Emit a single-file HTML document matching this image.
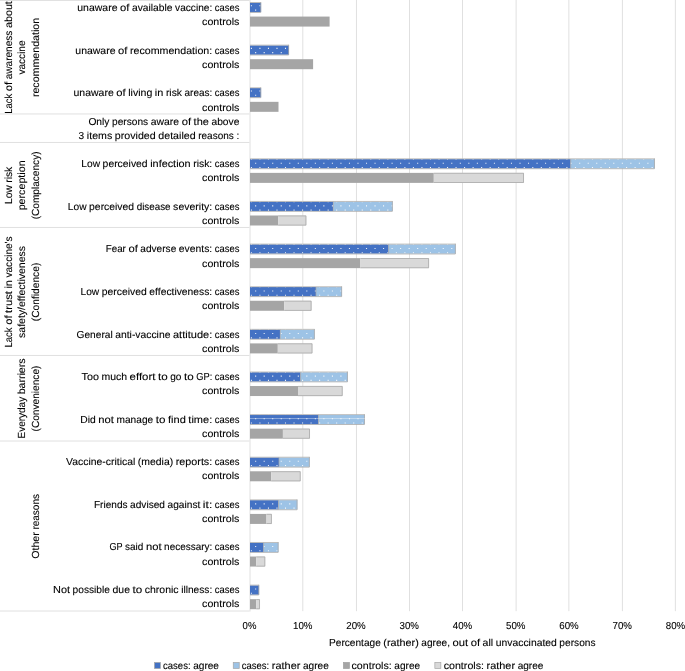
<!DOCTYPE html>
<html lang="en"><head><meta charset="utf-8"><title>Reasons for non-vaccination</title>
<style>html,body{margin:0;padding:0;background:#fff}body{width:685px;height:671px;overflow:hidden}svg{display:block}text{font-family:"Liberation Sans",sans-serif;font-size:10.1px;fill:#000;stroke:#000;stroke-width:0.1px;text-rendering:geometricPrecision}text.v{font-size:10.3px}</style></head><body>
<svg width="685" height="671" viewBox="0 0 685 671">
<rect width="685" height="671" fill="#fff"/>
<line x1="302.80" y1="0" x2="302.80" y2="611.18" stroke="#e0e0e0" stroke-width="1"/>
<line x1="356.45" y1="0" x2="356.45" y2="611.18" stroke="#e0e0e0" stroke-width="1"/>
<line x1="409.50" y1="0" x2="409.50" y2="611.18" stroke="#e0e0e0" stroke-width="1"/>
<line x1="462.50" y1="0" x2="462.50" y2="611.18" stroke="#e0e0e0" stroke-width="1"/>
<line x1="516.10" y1="0" x2="516.10" y2="611.18" stroke="#e0e0e0" stroke-width="1"/>
<line x1="568.85" y1="0" x2="568.85" y2="611.18" stroke="#e0e0e0" stroke-width="1"/>
<line x1="622.40" y1="0" x2="622.40" y2="611.18" stroke="#e0e0e0" stroke-width="1"/>
<line x1="675.35" y1="0" x2="675.35" y2="611.18" stroke="#e0e0e0" stroke-width="1"/>
<line x1="250.00" y1="0" x2="250.00" y2="611.50" stroke="#e0e0e0" stroke-width="1"/>
<line x1="0" y1="0.45" x2="249.50" y2="0.45" stroke="#e0e0e0" stroke-width="1"/>
<line x1="0" y1="113.95" x2="249.50" y2="113.95" stroke="#e0e0e0" stroke-width="1"/>
<line x1="0" y1="142.45" x2="249.50" y2="142.45" stroke="#e0e0e0" stroke-width="1"/>
<line x1="0" y1="227.45" x2="249.50" y2="227.45" stroke="#e0e0e0" stroke-width="1"/>
<line x1="0" y1="355.45" x2="249.50" y2="355.45" stroke="#e0e0e0" stroke-width="1"/>
<line x1="0" y1="441.00" x2="249.50" y2="441.00" stroke="#e0e0e0" stroke-width="1"/>
<line x1="0" y1="611.00" x2="249.50" y2="611.00" stroke="#e0e0e0" stroke-width="1"/>
<rect x="250.00" y="2.81" width="11.10" height="9.30" fill="#4472c4"/>
<path d="M250.87 5.30h1.07v1.07h-1.07zM259.39 5.30h1.07v1.07h-1.07zM255.13 9.56h1.07v1.07h-1.07z" fill="#fff" fill-opacity="0.9"/>
<line x1="250.00" y1="2.51" x2="261.10" y2="2.51" stroke="#b2b0ac" stroke-width="0.8"/>
<path d="M260.75 2.21V12.41H250.00" fill="none" stroke="#a9a9a9" stroke-width="0.8"/>
<rect x="250.00" y="16.57" width="79.60" height="10.00" fill="#a5a5a5"/>
<text y="11.00"><tspan x="77.28" textLength="40.23" lengthAdjust="spacingAndGlyphs">unaware</tspan> <tspan x="120.06" textLength="9.38" lengthAdjust="spacingAndGlyphs">of</tspan> <tspan x="131.99" textLength="40.57" lengthAdjust="spacingAndGlyphs">available</tspan> <tspan x="175.11" textLength="37.15" lengthAdjust="spacingAndGlyphs">vaccine:</tspan> <tspan x="214.81" textLength="24.59" lengthAdjust="spacingAndGlyphs">cases</tspan></text>
<text y="25.00"><tspan x="202.13" textLength="37.27" lengthAdjust="spacingAndGlyphs">controls</tspan></text>
<rect x="250.00" y="45.44" width="39.00" height="9.30" fill="#4472c4"/>
<path d="M250.87 47.87h1.07v1.07h-1.07zM259.39 47.87h1.07v1.07h-1.07zM267.92 47.87h1.07v1.07h-1.07zM276.45 47.87h1.07v1.07h-1.07zM284.97 47.87h1.07v1.07h-1.07zM255.13 52.12h1.07v1.07h-1.07zM263.66 52.12h1.07v1.07h-1.07zM272.18 52.12h1.07v1.07h-1.07zM280.71 52.12h1.07v1.07h-1.07z" fill="#fff" fill-opacity="0.9"/>
<line x1="250.00" y1="45.14" x2="289.00" y2="45.14" stroke="#b2b0ac" stroke-width="0.8"/>
<path d="M288.65 44.84V55.03H250.00" fill="none" stroke="#a9a9a9" stroke-width="0.8"/>
<rect x="250.00" y="59.20" width="63.10" height="10.00" fill="#a5a5a5"/>
<text y="54.00"><tspan x="75.30" textLength="40.23" lengthAdjust="spacingAndGlyphs">unaware</tspan> <tspan x="118.08" textLength="9.38" lengthAdjust="spacingAndGlyphs">of</tspan> <tspan x="130.01" textLength="82.26" lengthAdjust="spacingAndGlyphs">recommendation:</tspan> <tspan x="214.81" textLength="24.59" lengthAdjust="spacingAndGlyphs">cases</tspan></text>
<text y="68.00"><tspan x="202.13" textLength="37.27" lengthAdjust="spacingAndGlyphs">controls</tspan></text>
<rect x="250.00" y="88.07" width="11.10" height="9.30" fill="#4472c4"/>
<path d="M250.87 90.43h1.07v1.07h-1.07zM259.39 90.43h1.07v1.07h-1.07zM255.13 94.69h1.07v1.07h-1.07z" fill="#fff" fill-opacity="0.9"/>
<line x1="250.00" y1="87.77" x2="261.10" y2="87.77" stroke="#b2b0ac" stroke-width="0.8"/>
<path d="M260.75 87.47V97.67H250.00" fill="none" stroke="#a9a9a9" stroke-width="0.8"/>
<rect x="250.00" y="101.83" width="28.50" height="10.00" fill="#a5a5a5"/>
<text y="96.00"><tspan x="73.52" textLength="40.23" lengthAdjust="spacingAndGlyphs">unaware</tspan> <tspan x="116.30" textLength="9.38" lengthAdjust="spacingAndGlyphs">of</tspan> <tspan x="128.23" textLength="24.08" lengthAdjust="spacingAndGlyphs">living</tspan> <tspan x="154.86" textLength="8.51" lengthAdjust="spacingAndGlyphs">in</tspan> <tspan x="165.91" textLength="16.05" lengthAdjust="spacingAndGlyphs">risk</tspan> <tspan x="184.51" textLength="27.76" lengthAdjust="spacingAndGlyphs">areas:</tspan> <tspan x="214.81" textLength="24.59" lengthAdjust="spacingAndGlyphs">cases</tspan></text>
<text y="111.00"><tspan x="202.13" textLength="37.27" lengthAdjust="spacingAndGlyphs">controls</tspan></text>
<rect x="250.00" y="159.12" width="320.70" height="9.30" fill="#4472c4"/>
<rect x="570.70" y="159.12" width="84.10" height="9.30" fill="#9dc3e6"/>
<path d="M250.87 158.53h1.07v1.07h-1.07zM259.39 158.53h1.07v1.07h-1.07zM267.92 158.53h1.07v1.07h-1.07zM276.45 158.53h1.07v1.07h-1.07zM284.97 158.53h1.07v1.07h-1.07zM293.50 158.53h1.07v1.07h-1.07zM302.03 158.53h1.07v1.07h-1.07zM310.55 158.53h1.07v1.07h-1.07zM319.08 158.53h1.07v1.07h-1.07zM327.61 158.53h1.07v1.07h-1.07zM336.13 158.53h1.07v1.07h-1.07zM344.66 158.53h1.07v1.07h-1.07zM353.19 158.53h1.07v1.07h-1.07zM361.72 158.53h1.07v1.07h-1.07zM370.24 158.53h1.07v1.07h-1.07zM378.77 158.53h1.07v1.07h-1.07zM387.30 158.53h1.07v1.07h-1.07zM395.82 158.53h1.07v1.07h-1.07zM404.35 158.53h1.07v1.07h-1.07zM412.88 158.53h1.07v1.07h-1.07zM421.40 158.53h1.07v1.07h-1.07zM429.93 158.53h1.07v1.07h-1.07zM438.46 158.53h1.07v1.07h-1.07zM446.99 158.53h1.07v1.07h-1.07zM455.51 158.53h1.07v1.07h-1.07zM464.04 158.53h1.07v1.07h-1.07zM472.57 158.53h1.07v1.07h-1.07zM481.09 158.53h1.07v1.07h-1.07zM489.62 158.53h1.07v1.07h-1.07zM498.15 158.53h1.07v1.07h-1.07zM506.67 158.53h1.07v1.07h-1.07zM515.20 158.53h1.07v1.07h-1.07zM523.73 158.53h1.07v1.07h-1.07zM532.26 158.53h1.07v1.07h-1.07zM540.78 158.53h1.07v1.07h-1.07zM549.31 158.53h1.07v1.07h-1.07zM557.84 158.53h1.07v1.07h-1.07zM566.36 158.53h1.07v1.07h-1.07zM574.89 158.53h1.07v1.07h-1.07zM583.42 158.53h1.07v1.07h-1.07zM591.95 158.53h1.07v1.07h-1.07zM600.47 158.53h1.07v1.07h-1.07zM609.00 158.53h1.07v1.07h-1.07zM617.53 158.53h1.07v1.07h-1.07zM626.05 158.53h1.07v1.07h-1.07zM634.58 158.53h1.07v1.07h-1.07zM643.11 158.53h1.07v1.07h-1.07zM651.63 158.53h1.07v1.07h-1.07zM250.87 167.05h1.07v1.07h-1.07zM259.39 167.05h1.07v1.07h-1.07zM267.92 167.05h1.07v1.07h-1.07zM276.45 167.05h1.07v1.07h-1.07zM284.97 167.05h1.07v1.07h-1.07zM293.50 167.05h1.07v1.07h-1.07zM302.03 167.05h1.07v1.07h-1.07zM310.55 167.05h1.07v1.07h-1.07zM319.08 167.05h1.07v1.07h-1.07zM327.61 167.05h1.07v1.07h-1.07zM336.13 167.05h1.07v1.07h-1.07zM344.66 167.05h1.07v1.07h-1.07zM353.19 167.05h1.07v1.07h-1.07zM361.72 167.05h1.07v1.07h-1.07zM370.24 167.05h1.07v1.07h-1.07zM378.77 167.05h1.07v1.07h-1.07zM387.30 167.05h1.07v1.07h-1.07zM395.82 167.05h1.07v1.07h-1.07zM404.35 167.05h1.07v1.07h-1.07zM412.88 167.05h1.07v1.07h-1.07zM421.40 167.05h1.07v1.07h-1.07zM429.93 167.05h1.07v1.07h-1.07zM438.46 167.05h1.07v1.07h-1.07zM446.99 167.05h1.07v1.07h-1.07zM455.51 167.05h1.07v1.07h-1.07zM464.04 167.05h1.07v1.07h-1.07zM472.57 167.05h1.07v1.07h-1.07zM481.09 167.05h1.07v1.07h-1.07zM489.62 167.05h1.07v1.07h-1.07zM498.15 167.05h1.07v1.07h-1.07zM506.67 167.05h1.07v1.07h-1.07zM515.20 167.05h1.07v1.07h-1.07zM523.73 167.05h1.07v1.07h-1.07zM532.26 167.05h1.07v1.07h-1.07zM540.78 167.05h1.07v1.07h-1.07zM549.31 167.05h1.07v1.07h-1.07zM557.84 167.05h1.07v1.07h-1.07zM566.36 167.05h1.07v1.07h-1.07zM574.89 167.05h1.07v1.07h-1.07zM583.42 167.05h1.07v1.07h-1.07zM591.95 167.05h1.07v1.07h-1.07zM600.47 167.05h1.07v1.07h-1.07zM609.00 167.05h1.07v1.07h-1.07zM617.53 167.05h1.07v1.07h-1.07zM626.05 167.05h1.07v1.07h-1.07zM634.58 167.05h1.07v1.07h-1.07zM643.11 167.05h1.07v1.07h-1.07zM651.63 167.05h1.07v1.07h-1.07zM255.13 162.79h1.07v1.07h-1.07zM263.66 162.79h1.07v1.07h-1.07zM272.18 162.79h1.07v1.07h-1.07zM280.71 162.79h1.07v1.07h-1.07zM289.24 162.79h1.07v1.07h-1.07zM297.76 162.79h1.07v1.07h-1.07zM306.29 162.79h1.07v1.07h-1.07zM314.82 162.79h1.07v1.07h-1.07zM323.34 162.79h1.07v1.07h-1.07zM331.87 162.79h1.07v1.07h-1.07zM340.40 162.79h1.07v1.07h-1.07zM348.93 162.79h1.07v1.07h-1.07zM357.45 162.79h1.07v1.07h-1.07zM365.98 162.79h1.07v1.07h-1.07zM374.51 162.79h1.07v1.07h-1.07zM383.03 162.79h1.07v1.07h-1.07zM391.56 162.79h1.07v1.07h-1.07zM400.09 162.79h1.07v1.07h-1.07zM408.61 162.79h1.07v1.07h-1.07zM417.14 162.79h1.07v1.07h-1.07zM425.67 162.79h1.07v1.07h-1.07zM434.20 162.79h1.07v1.07h-1.07zM442.72 162.79h1.07v1.07h-1.07zM451.25 162.79h1.07v1.07h-1.07zM459.78 162.79h1.07v1.07h-1.07zM468.30 162.79h1.07v1.07h-1.07zM476.83 162.79h1.07v1.07h-1.07zM485.36 162.79h1.07v1.07h-1.07zM493.88 162.79h1.07v1.07h-1.07zM502.41 162.79h1.07v1.07h-1.07zM510.94 162.79h1.07v1.07h-1.07zM519.47 162.79h1.07v1.07h-1.07zM527.99 162.79h1.07v1.07h-1.07zM536.52 162.79h1.07v1.07h-1.07zM545.05 162.79h1.07v1.07h-1.07zM553.57 162.79h1.07v1.07h-1.07zM562.10 162.79h1.07v1.07h-1.07zM570.63 162.79h1.07v1.07h-1.07zM579.15 162.79h1.07v1.07h-1.07zM587.68 162.79h1.07v1.07h-1.07zM596.21 162.79h1.07v1.07h-1.07zM604.74 162.79h1.07v1.07h-1.07zM613.26 162.79h1.07v1.07h-1.07zM621.79 162.79h1.07v1.07h-1.07zM630.32 162.79h1.07v1.07h-1.07zM638.84 162.79h1.07v1.07h-1.07zM647.37 162.79h1.07v1.07h-1.07z" fill="#fff" fill-opacity="0.9"/>
<line x1="250.00" y1="158.81" x2="654.80" y2="158.81" stroke="#b2b0ac" stroke-width="0.8"/>
<path d="M654.45 158.52V168.72H250.00" fill="none" stroke="#a9a9a9" stroke-width="0.8"/>
<line x1="570.70" y1="159.12" x2="570.70" y2="168.42" stroke="#a9a9a9" stroke-width="0.7"/>
<rect x="250.00" y="172.88" width="183.80" height="10.00" fill="#a5a5a5"/>
<rect x="433.80" y="172.88" width="90.10" height="10.00" fill="#d9d9d9"/>
<path d="M433.80 173.25H523.53V182.50H433.80" fill="none" stroke="#a6a6a6" stroke-width="0.75"/>
<text y="167.00"><tspan x="81.32" textLength="18.74" lengthAdjust="spacingAndGlyphs">Low</tspan> <tspan x="102.61" textLength="45.04" lengthAdjust="spacingAndGlyphs">perceived</tspan> <tspan x="150.19" textLength="40.46" lengthAdjust="spacingAndGlyphs">infection</tspan> <tspan x="193.20" textLength="19.06" lengthAdjust="spacingAndGlyphs">risk:</tspan> <tspan x="214.81" textLength="24.59" lengthAdjust="spacingAndGlyphs">cases</tspan></text>
<text y="181.00"><tspan x="202.13" textLength="37.27" lengthAdjust="spacingAndGlyphs">controls</tspan></text>
<rect x="250.00" y="201.75" width="83.30" height="9.30" fill="#4472c4"/>
<rect x="333.30" y="201.75" width="59.40" height="9.30" fill="#9dc3e6"/>
<path d="M250.87 201.10h1.07v1.07h-1.07zM259.39 201.10h1.07v1.07h-1.07zM267.92 201.10h1.07v1.07h-1.07zM276.45 201.10h1.07v1.07h-1.07zM284.97 201.10h1.07v1.07h-1.07zM293.50 201.10h1.07v1.07h-1.07zM302.03 201.10h1.07v1.07h-1.07zM310.55 201.10h1.07v1.07h-1.07zM319.08 201.10h1.07v1.07h-1.07zM327.61 201.10h1.07v1.07h-1.07zM336.13 201.10h1.07v1.07h-1.07zM344.66 201.10h1.07v1.07h-1.07zM353.19 201.10h1.07v1.07h-1.07zM361.72 201.10h1.07v1.07h-1.07zM370.24 201.10h1.07v1.07h-1.07zM378.77 201.10h1.07v1.07h-1.07zM387.30 201.10h1.07v1.07h-1.07zM250.87 209.61h1.07v1.07h-1.07zM259.39 209.61h1.07v1.07h-1.07zM267.92 209.61h1.07v1.07h-1.07zM276.45 209.61h1.07v1.07h-1.07zM284.97 209.61h1.07v1.07h-1.07zM293.50 209.61h1.07v1.07h-1.07zM302.03 209.61h1.07v1.07h-1.07zM310.55 209.61h1.07v1.07h-1.07zM319.08 209.61h1.07v1.07h-1.07zM327.61 209.61h1.07v1.07h-1.07zM336.13 209.61h1.07v1.07h-1.07zM344.66 209.61h1.07v1.07h-1.07zM353.19 209.61h1.07v1.07h-1.07zM361.72 209.61h1.07v1.07h-1.07zM370.24 209.61h1.07v1.07h-1.07zM378.77 209.61h1.07v1.07h-1.07zM387.30 209.61h1.07v1.07h-1.07zM255.13 205.36h1.07v1.07h-1.07zM263.66 205.36h1.07v1.07h-1.07zM272.18 205.36h1.07v1.07h-1.07zM280.71 205.36h1.07v1.07h-1.07zM289.24 205.36h1.07v1.07h-1.07zM297.76 205.36h1.07v1.07h-1.07zM306.29 205.36h1.07v1.07h-1.07zM314.82 205.36h1.07v1.07h-1.07zM323.34 205.36h1.07v1.07h-1.07zM331.87 205.36h1.07v1.07h-1.07zM340.40 205.36h1.07v1.07h-1.07zM348.93 205.36h1.07v1.07h-1.07zM357.45 205.36h1.07v1.07h-1.07zM365.98 205.36h1.07v1.07h-1.07zM374.51 205.36h1.07v1.07h-1.07zM383.03 205.36h1.07v1.07h-1.07zM391.56 205.36h1.07v1.07h-1.07z" fill="#fff" fill-opacity="0.9"/>
<line x1="250.00" y1="201.44" x2="392.70" y2="201.44" stroke="#b2b0ac" stroke-width="0.8"/>
<path d="M392.35 201.15V211.35H250.00" fill="none" stroke="#a9a9a9" stroke-width="0.8"/>
<line x1="333.30" y1="201.75" x2="333.30" y2="211.05" stroke="#a9a9a9" stroke-width="0.7"/>
<rect x="250.00" y="215.50" width="28.10" height="10.00" fill="#a5a5a5"/>
<rect x="278.10" y="215.50" width="28.20" height="10.00" fill="#d9d9d9"/>
<path d="M278.10 215.88H305.93V225.13H278.10" fill="none" stroke="#a6a6a6" stroke-width="0.75"/>
<text y="210.00"><tspan x="67.79" textLength="18.74" lengthAdjust="spacingAndGlyphs">Low</tspan> <tspan x="89.08" textLength="45.04" lengthAdjust="spacingAndGlyphs">perceived</tspan> <tspan x="136.66" textLength="33.94" lengthAdjust="spacingAndGlyphs">disease</tspan> <tspan x="173.14" textLength="39.12" lengthAdjust="spacingAndGlyphs">severity:</tspan> <tspan x="214.81" textLength="24.59" lengthAdjust="spacingAndGlyphs">cases</tspan></text>
<text y="224.00"><tspan x="202.13" textLength="37.27" lengthAdjust="spacingAndGlyphs">controls</tspan></text>
<rect x="250.00" y="244.38" width="138.60" height="9.30" fill="#4472c4"/>
<rect x="388.60" y="244.38" width="67.10" height="9.30" fill="#9dc3e6"/>
<path d="M250.87 243.66h1.07v1.07h-1.07zM259.39 243.66h1.07v1.07h-1.07zM267.92 243.66h1.07v1.07h-1.07zM276.45 243.66h1.07v1.07h-1.07zM284.97 243.66h1.07v1.07h-1.07zM293.50 243.66h1.07v1.07h-1.07zM302.03 243.66h1.07v1.07h-1.07zM310.55 243.66h1.07v1.07h-1.07zM319.08 243.66h1.07v1.07h-1.07zM327.61 243.66h1.07v1.07h-1.07zM336.13 243.66h1.07v1.07h-1.07zM344.66 243.66h1.07v1.07h-1.07zM353.19 243.66h1.07v1.07h-1.07zM361.72 243.66h1.07v1.07h-1.07zM370.24 243.66h1.07v1.07h-1.07zM378.77 243.66h1.07v1.07h-1.07zM387.30 243.66h1.07v1.07h-1.07zM395.82 243.66h1.07v1.07h-1.07zM404.35 243.66h1.07v1.07h-1.07zM412.88 243.66h1.07v1.07h-1.07zM421.40 243.66h1.07v1.07h-1.07zM429.93 243.66h1.07v1.07h-1.07zM438.46 243.66h1.07v1.07h-1.07zM446.99 243.66h1.07v1.07h-1.07zM250.87 252.18h1.07v1.07h-1.07zM259.39 252.18h1.07v1.07h-1.07zM267.92 252.18h1.07v1.07h-1.07zM276.45 252.18h1.07v1.07h-1.07zM284.97 252.18h1.07v1.07h-1.07zM293.50 252.18h1.07v1.07h-1.07zM302.03 252.18h1.07v1.07h-1.07zM310.55 252.18h1.07v1.07h-1.07zM319.08 252.18h1.07v1.07h-1.07zM327.61 252.18h1.07v1.07h-1.07zM336.13 252.18h1.07v1.07h-1.07zM344.66 252.18h1.07v1.07h-1.07zM353.19 252.18h1.07v1.07h-1.07zM361.72 252.18h1.07v1.07h-1.07zM370.24 252.18h1.07v1.07h-1.07zM378.77 252.18h1.07v1.07h-1.07zM387.30 252.18h1.07v1.07h-1.07zM395.82 252.18h1.07v1.07h-1.07zM404.35 252.18h1.07v1.07h-1.07zM412.88 252.18h1.07v1.07h-1.07zM421.40 252.18h1.07v1.07h-1.07zM429.93 252.18h1.07v1.07h-1.07zM438.46 252.18h1.07v1.07h-1.07zM446.99 252.18h1.07v1.07h-1.07zM255.13 247.92h1.07v1.07h-1.07zM263.66 247.92h1.07v1.07h-1.07zM272.18 247.92h1.07v1.07h-1.07zM280.71 247.92h1.07v1.07h-1.07zM289.24 247.92h1.07v1.07h-1.07zM297.76 247.92h1.07v1.07h-1.07zM306.29 247.92h1.07v1.07h-1.07zM314.82 247.92h1.07v1.07h-1.07zM323.34 247.92h1.07v1.07h-1.07zM331.87 247.92h1.07v1.07h-1.07zM340.40 247.92h1.07v1.07h-1.07zM348.93 247.92h1.07v1.07h-1.07zM357.45 247.92h1.07v1.07h-1.07zM365.98 247.92h1.07v1.07h-1.07zM374.51 247.92h1.07v1.07h-1.07zM383.03 247.92h1.07v1.07h-1.07zM391.56 247.92h1.07v1.07h-1.07zM400.09 247.92h1.07v1.07h-1.07zM408.61 247.92h1.07v1.07h-1.07zM417.14 247.92h1.07v1.07h-1.07zM425.67 247.92h1.07v1.07h-1.07zM434.20 247.92h1.07v1.07h-1.07zM442.72 247.92h1.07v1.07h-1.07zM451.25 247.92h1.07v1.07h-1.07z" fill="#fff" fill-opacity="0.9"/>
<line x1="250.00" y1="244.08" x2="455.70" y2="244.08" stroke="#b2b0ac" stroke-width="0.8"/>
<path d="M455.35 243.78V253.98H250.00" fill="none" stroke="#a9a9a9" stroke-width="0.8"/>
<line x1="388.60" y1="244.38" x2="388.60" y2="253.68" stroke="#a9a9a9" stroke-width="0.7"/>
<rect x="250.00" y="258.14" width="110.40" height="10.00" fill="#a5a5a5"/>
<rect x="360.40" y="258.14" width="68.60" height="10.00" fill="#d9d9d9"/>
<path d="M360.40 258.51H428.63V267.77H360.40" fill="none" stroke="#a6a6a6" stroke-width="0.75"/>
<text y="252.00"><tspan x="105.74" textLength="20.11" lengthAdjust="spacingAndGlyphs">Fear</tspan> <tspan x="128.40" textLength="9.38" lengthAdjust="spacingAndGlyphs">of</tspan> <tspan x="140.33" textLength="35.96" lengthAdjust="spacingAndGlyphs">adverse</tspan> <tspan x="178.84" textLength="33.42" lengthAdjust="spacingAndGlyphs">events:</tspan> <tspan x="214.81" textLength="24.59" lengthAdjust="spacingAndGlyphs">cases</tspan></text>
<text y="267.00"><tspan x="202.13" textLength="37.27" lengthAdjust="spacingAndGlyphs">controls</tspan></text>
<rect x="250.00" y="287.01" width="66.00" height="9.30" fill="#4472c4"/>
<rect x="316.00" y="287.01" width="26.00" height="9.30" fill="#9dc3e6"/>
<path d="M250.87 286.23h1.07v1.07h-1.07zM259.39 286.23h1.07v1.07h-1.07zM267.92 286.23h1.07v1.07h-1.07zM276.45 286.23h1.07v1.07h-1.07zM284.97 286.23h1.07v1.07h-1.07zM293.50 286.23h1.07v1.07h-1.07zM302.03 286.23h1.07v1.07h-1.07zM310.55 286.23h1.07v1.07h-1.07zM319.08 286.23h1.07v1.07h-1.07zM327.61 286.23h1.07v1.07h-1.07zM336.13 286.23h1.07v1.07h-1.07zM250.87 294.74h1.07v1.07h-1.07zM259.39 294.74h1.07v1.07h-1.07zM267.92 294.74h1.07v1.07h-1.07zM276.45 294.74h1.07v1.07h-1.07zM284.97 294.74h1.07v1.07h-1.07zM293.50 294.74h1.07v1.07h-1.07zM302.03 294.74h1.07v1.07h-1.07zM310.55 294.74h1.07v1.07h-1.07zM319.08 294.74h1.07v1.07h-1.07zM327.61 294.74h1.07v1.07h-1.07zM336.13 294.74h1.07v1.07h-1.07zM255.13 290.49h1.07v1.07h-1.07zM263.66 290.49h1.07v1.07h-1.07zM272.18 290.49h1.07v1.07h-1.07zM280.71 290.49h1.07v1.07h-1.07zM289.24 290.49h1.07v1.07h-1.07zM297.76 290.49h1.07v1.07h-1.07zM306.29 290.49h1.07v1.07h-1.07zM314.82 290.49h1.07v1.07h-1.07zM323.34 290.49h1.07v1.07h-1.07zM331.87 290.49h1.07v1.07h-1.07zM340.40 290.49h1.07v1.07h-1.07z" fill="#fff" fill-opacity="0.9"/>
<line x1="250.00" y1="286.71" x2="342.00" y2="286.71" stroke="#b2b0ac" stroke-width="0.8"/>
<path d="M341.65 286.41V296.61H250.00" fill="none" stroke="#a9a9a9" stroke-width="0.8"/>
<line x1="316.00" y1="287.01" x2="316.00" y2="296.31" stroke="#a9a9a9" stroke-width="0.7"/>
<rect x="250.00" y="300.77" width="34.20" height="10.00" fill="#a5a5a5"/>
<rect x="284.20" y="300.77" width="27.30" height="10.00" fill="#d9d9d9"/>
<path d="M284.20 301.14H311.13V310.40H284.20" fill="none" stroke="#a6a6a6" stroke-width="0.75"/>
<text y="295.00"><tspan x="80.50" textLength="18.74" lengthAdjust="spacingAndGlyphs">Low</tspan> <tspan x="101.79" textLength="45.04" lengthAdjust="spacingAndGlyphs">perceived</tspan> <tspan x="149.37" textLength="62.89" lengthAdjust="spacingAndGlyphs">effectiveness:</tspan> <tspan x="214.81" textLength="24.59" lengthAdjust="spacingAndGlyphs">cases</tspan></text>
<text y="309.00"><tspan x="202.13" textLength="37.27" lengthAdjust="spacingAndGlyphs">controls</tspan></text>
<rect x="250.00" y="329.64" width="30.30" height="9.30" fill="#4472c4"/>
<rect x="280.30" y="329.64" width="34.40" height="9.30" fill="#9dc3e6"/>
<path d="M250.87 328.79h1.07v1.07h-1.07zM259.39 328.79h1.07v1.07h-1.07zM267.92 328.79h1.07v1.07h-1.07zM276.45 328.79h1.07v1.07h-1.07zM284.97 328.79h1.07v1.07h-1.07zM293.50 328.79h1.07v1.07h-1.07zM302.03 328.79h1.07v1.07h-1.07zM310.55 328.79h1.07v1.07h-1.07zM250.87 337.31h1.07v1.07h-1.07zM259.39 337.31h1.07v1.07h-1.07zM267.92 337.31h1.07v1.07h-1.07zM276.45 337.31h1.07v1.07h-1.07zM284.97 337.31h1.07v1.07h-1.07zM293.50 337.31h1.07v1.07h-1.07zM302.03 337.31h1.07v1.07h-1.07zM310.55 337.31h1.07v1.07h-1.07zM255.13 333.05h1.07v1.07h-1.07zM263.66 333.05h1.07v1.07h-1.07zM272.18 333.05h1.07v1.07h-1.07zM280.71 333.05h1.07v1.07h-1.07zM289.24 333.05h1.07v1.07h-1.07zM297.76 333.05h1.07v1.07h-1.07zM306.29 333.05h1.07v1.07h-1.07z" fill="#fff" fill-opacity="0.9"/>
<line x1="250.00" y1="329.34" x2="314.70" y2="329.34" stroke="#b2b0ac" stroke-width="0.8"/>
<path d="M314.35 329.04V339.24H250.00" fill="none" stroke="#a9a9a9" stroke-width="0.8"/>
<line x1="280.30" y1="329.64" x2="280.30" y2="338.94" stroke="#a9a9a9" stroke-width="0.7"/>
<rect x="250.00" y="343.40" width="27.80" height="10.00" fill="#a5a5a5"/>
<rect x="277.80" y="343.40" width="34.60" height="10.00" fill="#d9d9d9"/>
<path d="M277.80 343.77H312.03V353.03H277.80" fill="none" stroke="#a6a6a6" stroke-width="0.75"/>
<text y="338.00"><tspan x="76.54" textLength="36.16" lengthAdjust="spacingAndGlyphs">General</tspan> <tspan x="115.25" textLength="55.18" lengthAdjust="spacingAndGlyphs">anti-vaccine</tspan> <tspan x="172.98" textLength="39.29" lengthAdjust="spacingAndGlyphs">attitude:</tspan> <tspan x="214.81" textLength="24.59" lengthAdjust="spacingAndGlyphs">cases</tspan></text>
<text y="352.00"><tspan x="202.13" textLength="37.27" lengthAdjust="spacingAndGlyphs">controls</tspan></text>
<rect x="250.00" y="372.27" width="50.60" height="9.30" fill="#4472c4"/>
<rect x="300.60" y="372.27" width="47.20" height="9.30" fill="#9dc3e6"/>
<path d="M250.87 371.36h1.07v1.07h-1.07zM259.39 371.36h1.07v1.07h-1.07zM267.92 371.36h1.07v1.07h-1.07zM276.45 371.36h1.07v1.07h-1.07zM284.97 371.36h1.07v1.07h-1.07zM293.50 371.36h1.07v1.07h-1.07zM302.03 371.36h1.07v1.07h-1.07zM310.55 371.36h1.07v1.07h-1.07zM319.08 371.36h1.07v1.07h-1.07zM327.61 371.36h1.07v1.07h-1.07zM336.13 371.36h1.07v1.07h-1.07zM344.66 371.36h1.07v1.07h-1.07zM250.87 379.87h1.07v1.07h-1.07zM259.39 379.87h1.07v1.07h-1.07zM267.92 379.87h1.07v1.07h-1.07zM276.45 379.87h1.07v1.07h-1.07zM284.97 379.87h1.07v1.07h-1.07zM293.50 379.87h1.07v1.07h-1.07zM302.03 379.87h1.07v1.07h-1.07zM310.55 379.87h1.07v1.07h-1.07zM319.08 379.87h1.07v1.07h-1.07zM327.61 379.87h1.07v1.07h-1.07zM336.13 379.87h1.07v1.07h-1.07zM344.66 379.87h1.07v1.07h-1.07zM255.13 375.62h1.07v1.07h-1.07zM263.66 375.62h1.07v1.07h-1.07zM272.18 375.62h1.07v1.07h-1.07zM280.71 375.62h1.07v1.07h-1.07zM289.24 375.62h1.07v1.07h-1.07zM297.76 375.62h1.07v1.07h-1.07zM306.29 375.62h1.07v1.07h-1.07zM314.82 375.62h1.07v1.07h-1.07zM323.34 375.62h1.07v1.07h-1.07zM331.87 375.62h1.07v1.07h-1.07zM340.40 375.62h1.07v1.07h-1.07z" fill="#fff" fill-opacity="0.9"/>
<line x1="250.00" y1="371.97" x2="347.80" y2="371.97" stroke="#b2b0ac" stroke-width="0.8"/>
<path d="M347.45 371.67V381.87H250.00" fill="none" stroke="#a9a9a9" stroke-width="0.8"/>
<line x1="300.60" y1="372.27" x2="300.60" y2="381.57" stroke="#a9a9a9" stroke-width="0.7"/>
<rect x="250.00" y="386.03" width="48.00" height="10.00" fill="#a5a5a5"/>
<rect x="298.00" y="386.03" width="44.60" height="10.00" fill="#d9d9d9"/>
<path d="M298.00 386.40H342.23V395.66H298.00" fill="none" stroke="#a6a6a6" stroke-width="0.75"/>
<text y="380.00"><tspan x="81.53" textLength="17.38" lengthAdjust="spacingAndGlyphs">Too</tspan> <tspan x="101.45" textLength="25.61" lengthAdjust="spacingAndGlyphs">much</tspan> <tspan x="129.61" textLength="25.83" lengthAdjust="spacingAndGlyphs">effort</tspan> <tspan x="157.99" textLength="9.72" lengthAdjust="spacingAndGlyphs">to</tspan> <tspan x="170.26" textLength="11.25" lengthAdjust="spacingAndGlyphs">go</tspan> <tspan x="184.05" textLength="9.72" lengthAdjust="spacingAndGlyphs">to</tspan> <tspan x="196.32" textLength="15.95" lengthAdjust="spacingAndGlyphs">GP:</tspan> <tspan x="214.81" textLength="24.59" lengthAdjust="spacingAndGlyphs">cases</tspan></text>
<text y="394.00"><tspan x="202.13" textLength="37.27" lengthAdjust="spacingAndGlyphs">controls</tspan></text>
<rect x="250.00" y="414.90" width="68.50" height="9.30" fill="#4472c4"/>
<rect x="318.50" y="414.90" width="46.30" height="9.30" fill="#9dc3e6"/>
<path d="M250.87 413.92h1.07v1.07h-1.07zM259.39 413.92h1.07v1.07h-1.07zM267.92 413.92h1.07v1.07h-1.07zM276.45 413.92h1.07v1.07h-1.07zM284.97 413.92h1.07v1.07h-1.07zM293.50 413.92h1.07v1.07h-1.07zM302.03 413.92h1.07v1.07h-1.07zM310.55 413.92h1.07v1.07h-1.07zM319.08 413.92h1.07v1.07h-1.07zM327.61 413.92h1.07v1.07h-1.07zM336.13 413.92h1.07v1.07h-1.07zM344.66 413.92h1.07v1.07h-1.07zM353.19 413.92h1.07v1.07h-1.07zM361.72 413.92h1.07v1.07h-1.07zM250.87 422.44h1.07v1.07h-1.07zM259.39 422.44h1.07v1.07h-1.07zM267.92 422.44h1.07v1.07h-1.07zM276.45 422.44h1.07v1.07h-1.07zM284.97 422.44h1.07v1.07h-1.07zM293.50 422.44h1.07v1.07h-1.07zM302.03 422.44h1.07v1.07h-1.07zM310.55 422.44h1.07v1.07h-1.07zM319.08 422.44h1.07v1.07h-1.07zM327.61 422.44h1.07v1.07h-1.07zM336.13 422.44h1.07v1.07h-1.07zM344.66 422.44h1.07v1.07h-1.07zM353.19 422.44h1.07v1.07h-1.07zM361.72 422.44h1.07v1.07h-1.07zM255.13 418.18h1.07v1.07h-1.07zM263.66 418.18h1.07v1.07h-1.07zM272.18 418.18h1.07v1.07h-1.07zM280.71 418.18h1.07v1.07h-1.07zM289.24 418.18h1.07v1.07h-1.07zM297.76 418.18h1.07v1.07h-1.07zM306.29 418.18h1.07v1.07h-1.07zM314.82 418.18h1.07v1.07h-1.07zM323.34 418.18h1.07v1.07h-1.07zM331.87 418.18h1.07v1.07h-1.07zM340.40 418.18h1.07v1.07h-1.07zM348.93 418.18h1.07v1.07h-1.07zM357.45 418.18h1.07v1.07h-1.07z" fill="#fff" fill-opacity="0.9"/>
<line x1="250.00" y1="414.60" x2="364.80" y2="414.60" stroke="#b2b0ac" stroke-width="0.8"/>
<path d="M364.45 414.30V424.50H250.00" fill="none" stroke="#a9a9a9" stroke-width="0.8"/>
<line x1="318.50" y1="414.90" x2="318.50" y2="424.20" stroke="#a9a9a9" stroke-width="0.7"/>
<rect x="250.00" y="428.66" width="32.90" height="10.00" fill="#a5a5a5"/>
<rect x="282.90" y="428.66" width="27.00" height="10.00" fill="#d9d9d9"/>
<path d="M282.90 429.03H309.53V438.29H282.90" fill="none" stroke="#a6a6a6" stroke-width="0.75"/>
<text y="423.00"><tspan x="80.38" textLength="15.44" lengthAdjust="spacingAndGlyphs">Did</tspan> <tspan x="98.37" textLength="15.64" lengthAdjust="spacingAndGlyphs">not</tspan> <tspan x="116.56" textLength="36.63" lengthAdjust="spacingAndGlyphs">manage</tspan> <tspan x="155.74" textLength="9.72" lengthAdjust="spacingAndGlyphs">to</tspan> <tspan x="168.00" textLength="17.81" lengthAdjust="spacingAndGlyphs">find</tspan> <tspan x="188.36" textLength="23.90" lengthAdjust="spacingAndGlyphs">time:</tspan> <tspan x="214.81" textLength="24.59" lengthAdjust="spacingAndGlyphs">cases</tspan></text>
<text y="437.00"><tspan x="202.13" textLength="37.27" lengthAdjust="spacingAndGlyphs">controls</tspan></text>
<rect x="250.00" y="457.53" width="29.00" height="9.30" fill="#4472c4"/>
<rect x="279.00" y="457.53" width="30.70" height="9.30" fill="#9dc3e6"/>
<path d="M250.87 465.00h1.07v1.07h-1.07zM259.39 465.00h1.07v1.07h-1.07zM267.92 465.00h1.07v1.07h-1.07zM276.45 465.00h1.07v1.07h-1.07zM284.97 465.00h1.07v1.07h-1.07zM293.50 465.00h1.07v1.07h-1.07zM302.03 465.00h1.07v1.07h-1.07zM255.13 460.75h1.07v1.07h-1.07zM263.66 460.75h1.07v1.07h-1.07zM272.18 460.75h1.07v1.07h-1.07zM280.71 460.75h1.07v1.07h-1.07zM289.24 460.75h1.07v1.07h-1.07zM297.76 460.75h1.07v1.07h-1.07zM306.29 460.75h1.07v1.07h-1.07z" fill="#fff" fill-opacity="0.9"/>
<line x1="250.00" y1="457.23" x2="309.70" y2="457.23" stroke="#b2b0ac" stroke-width="0.8"/>
<path d="M309.35 456.93V467.13H250.00" fill="none" stroke="#a9a9a9" stroke-width="0.8"/>
<line x1="279.00" y1="457.53" x2="279.00" y2="466.83" stroke="#a9a9a9" stroke-width="0.7"/>
<rect x="250.00" y="471.29" width="21.20" height="10.00" fill="#a5a5a5"/>
<rect x="271.20" y="471.29" width="29.40" height="10.00" fill="#d9d9d9"/>
<path d="M271.20 471.66H300.23V480.92H271.20" fill="none" stroke="#a6a6a6" stroke-width="0.75"/>
<text y="465.00"><tspan x="66.09" textLength="69.20" lengthAdjust="spacingAndGlyphs">Vaccine-critical</tspan> <tspan x="137.84" textLength="35.35" lengthAdjust="spacingAndGlyphs">(media)</tspan> <tspan x="175.74" textLength="36.53" lengthAdjust="spacingAndGlyphs">reports:</tspan> <tspan x="214.81" textLength="24.59" lengthAdjust="spacingAndGlyphs">cases</tspan></text>
<text y="479.00"><tspan x="202.13" textLength="37.27" lengthAdjust="spacingAndGlyphs">controls</tspan></text>
<rect x="250.00" y="500.16" width="28.50" height="9.30" fill="#4472c4"/>
<rect x="278.50" y="500.16" width="18.90" height="9.30" fill="#9dc3e6"/>
<path d="M250.87 507.57h1.07v1.07h-1.07zM259.39 507.57h1.07v1.07h-1.07zM267.92 507.57h1.07v1.07h-1.07zM276.45 507.57h1.07v1.07h-1.07zM284.97 507.57h1.07v1.07h-1.07zM293.50 507.57h1.07v1.07h-1.07zM255.13 503.31h1.07v1.07h-1.07zM263.66 503.31h1.07v1.07h-1.07zM272.18 503.31h1.07v1.07h-1.07zM280.71 503.31h1.07v1.07h-1.07zM289.24 503.31h1.07v1.07h-1.07z" fill="#fff" fill-opacity="0.9"/>
<line x1="250.00" y1="499.86" x2="297.40" y2="499.86" stroke="#b2b0ac" stroke-width="0.8"/>
<path d="M297.05 499.56V509.76H250.00" fill="none" stroke="#a9a9a9" stroke-width="0.8"/>
<line x1="278.50" y1="500.16" x2="278.50" y2="509.46" stroke="#a9a9a9" stroke-width="0.7"/>
<rect x="250.00" y="513.92" width="16.50" height="10.00" fill="#a5a5a5"/>
<rect x="266.50" y="513.92" width="5.30" height="10.00" fill="#d9d9d9"/>
<path d="M266.50 514.29H271.43V523.55H266.50" fill="none" stroke="#a6a6a6" stroke-width="0.75"/>
<text y="508.00"><tspan x="93.97" textLength="33.55" lengthAdjust="spacingAndGlyphs">Friends</tspan> <tspan x="130.07" textLength="34.93" lengthAdjust="spacingAndGlyphs">advised</tspan> <tspan x="167.55" textLength="32.79" lengthAdjust="spacingAndGlyphs">against</tspan> <tspan x="202.89" textLength="9.38" lengthAdjust="spacingAndGlyphs">it:</tspan> <tspan x="214.81" textLength="24.59" lengthAdjust="spacingAndGlyphs">cases</tspan></text>
<text y="522.00"><tspan x="202.13" textLength="37.27" lengthAdjust="spacingAndGlyphs">controls</tspan></text>
<rect x="250.00" y="542.78" width="13.60" height="9.30" fill="#4472c4"/>
<rect x="263.60" y="542.78" width="14.90" height="9.30" fill="#9dc3e6"/>
<path d="M250.87 550.13h1.07v1.07h-1.07zM259.39 550.13h1.07v1.07h-1.07zM267.92 550.13h1.07v1.07h-1.07zM276.45 550.13h1.07v1.07h-1.07zM255.13 545.88h1.07v1.07h-1.07zM263.66 545.88h1.07v1.07h-1.07zM272.18 545.88h1.07v1.07h-1.07z" fill="#fff" fill-opacity="0.9"/>
<line x1="250.00" y1="542.49" x2="278.50" y2="542.49" stroke="#b2b0ac" stroke-width="0.8"/>
<path d="M278.15 542.18V552.38H250.00" fill="none" stroke="#a9a9a9" stroke-width="0.8"/>
<line x1="263.60" y1="542.78" x2="263.60" y2="552.08" stroke="#a9a9a9" stroke-width="0.7"/>
<rect x="250.00" y="556.55" width="6.20" height="10.00" fill="#a5a5a5"/>
<rect x="256.20" y="556.55" width="9.00" height="10.00" fill="#d9d9d9"/>
<path d="M256.20 556.92H264.83V566.18H256.20" fill="none" stroke="#a6a6a6" stroke-width="0.75"/>
<text y="550.00"><tspan x="109.57" textLength="12.93" lengthAdjust="spacingAndGlyphs">GP</tspan> <tspan x="125.05" textLength="18.31" lengthAdjust="spacingAndGlyphs">said</tspan> <tspan x="145.92" textLength="15.64" lengthAdjust="spacingAndGlyphs">not</tspan> <tspan x="164.10" textLength="48.16" lengthAdjust="spacingAndGlyphs">necessary:</tspan> <tspan x="214.81" textLength="24.59" lengthAdjust="spacingAndGlyphs">cases</tspan></text>
<text y="565.00"><tspan x="202.13" textLength="37.27" lengthAdjust="spacingAndGlyphs">controls</tspan></text>
<rect x="250.00" y="585.41" width="9.10" height="9.30" fill="#4472c4"/>
<path d="M250.87 592.70h1.07v1.07h-1.07zM255.13 588.44h1.07v1.07h-1.07z" fill="#fff" fill-opacity="0.9"/>
<line x1="250.00" y1="585.12" x2="259.10" y2="585.12" stroke="#b2b0ac" stroke-width="0.8"/>
<path d="M258.75 584.81V595.01H250.00" fill="none" stroke="#a9a9a9" stroke-width="0.8"/>
<rect x="250.00" y="599.18" width="6.20" height="10.00" fill="#a5a5a5"/>
<rect x="256.20" y="599.18" width="3.70" height="10.00" fill="#d9d9d9"/>
<path d="M256.20 599.55H259.53V608.81H256.20" fill="none" stroke="#a6a6a6" stroke-width="0.75"/>
<text y="593.00"><tspan x="53.03" textLength="16.99" lengthAdjust="spacingAndGlyphs">Not</tspan> <tspan x="72.57" textLength="37.38" lengthAdjust="spacingAndGlyphs">possible</tspan> <tspan x="112.50" textLength="17.45" lengthAdjust="spacingAndGlyphs">due</tspan> <tspan x="132.50" textLength="9.72" lengthAdjust="spacingAndGlyphs">to</tspan> <tspan x="144.77" textLength="33.83" lengthAdjust="spacingAndGlyphs">chronic</tspan> <tspan x="181.15" textLength="31.12" lengthAdjust="spacingAndGlyphs">illness:</tspan> <tspan x="214.81" textLength="24.59" lengthAdjust="spacingAndGlyphs">cases</tspan></text>
<text y="607.00"><tspan x="202.13" textLength="37.27" lengthAdjust="spacingAndGlyphs">controls</tspan></text>
<text y="125.00"><tspan x="88.42" textLength="21.07" lengthAdjust="spacingAndGlyphs">Only</tspan> <tspan x="112.03" textLength="36.14" lengthAdjust="spacingAndGlyphs">persons</tspan> <tspan x="150.72" textLength="28.39" lengthAdjust="spacingAndGlyphs">aware</tspan> <tspan x="181.66" textLength="9.38" lengthAdjust="spacingAndGlyphs">of</tspan> <tspan x="193.59" textLength="15.30" lengthAdjust="spacingAndGlyphs">the</tspan> <tspan x="211.44" textLength="27.96" lengthAdjust="spacingAndGlyphs">above</tspan></text>
<text y="139.00"><tspan x="78.61">3</tspan> <tspan x="86.87" textLength="25.38" lengthAdjust="spacingAndGlyphs">items</tspan> <tspan x="114.80" textLength="40.92" lengthAdjust="spacingAndGlyphs">provided</tspan> <tspan x="158.27" textLength="37.40" lengthAdjust="spacingAndGlyphs">detailed</tspan> <tspan x="198.22" textLength="35.61" lengthAdjust="spacingAndGlyphs">reasons</tspan> <tspan x="236.38">:</tspan></text>
<rect x="250" y="418.5" width="114.80" height="0.5" fill="#fff" fill-opacity="0.75"/>
<text class="v" transform="translate(11.80 57.49) rotate(-90)" y="0"><tspan x="-56.37" textLength="20.03" lengthAdjust="spacingAndGlyphs">Lack</tspan> <tspan x="-33.80" textLength="9.38" lengthAdjust="spacingAndGlyphs">of</tspan> <tspan x="-21.87" textLength="48.73" lengthAdjust="spacingAndGlyphs">awareness</tspan> <tspan x="29.41" textLength="26.96" lengthAdjust="spacingAndGlyphs">about</tspan></text>
<text class="v" transform="translate(25.35 57.49) rotate(-90)" y="0"><tspan x="-17.07" textLength="34.13" lengthAdjust="spacingAndGlyphs">vaccine</tspan></text>
<text class="v" transform="translate(38.90 57.49) rotate(-90)" y="0"><tspan x="-39.62" textLength="79.24" lengthAdjust="spacingAndGlyphs">recommendation</tspan></text>
<text class="v" transform="translate(11.80 185.38) rotate(-90)" y="0"><tspan x="-18.67" textLength="18.74" lengthAdjust="spacingAndGlyphs">Low</tspan> <tspan x="2.62" textLength="16.05" lengthAdjust="spacingAndGlyphs">risk</tspan></text>
<text class="v" transform="translate(25.35 185.38) rotate(-90)" y="0"><tspan x="-24.95" textLength="49.90" lengthAdjust="spacingAndGlyphs">perception</tspan></text>
<text class="v" transform="translate(38.90 185.38) rotate(-90)" y="0"><tspan x="-33.93" textLength="67.86" lengthAdjust="spacingAndGlyphs">(Complacency)</tspan></text>
<text class="v" transform="translate(11.80 291.95) rotate(-90)" y="0"><tspan x="-55.47" textLength="20.03" lengthAdjust="spacingAndGlyphs">Lack</tspan> <tspan x="-32.90" textLength="9.38" lengthAdjust="spacingAndGlyphs">of</tspan> <tspan x="-20.97" textLength="21.81" lengthAdjust="spacingAndGlyphs">trust</tspan> <tspan x="3.39" textLength="8.51" lengthAdjust="spacingAndGlyphs">in</tspan> <tspan x="14.44" textLength="41.03" lengthAdjust="spacingAndGlyphs">vaccine&#39;s</tspan></text>
<text class="v" transform="translate(25.35 291.95) rotate(-90)" y="0"><tspan x="-45.98" textLength="91.96" lengthAdjust="spacingAndGlyphs">safety/effectiveness</tspan></text>
<text class="v" transform="translate(38.90 291.95) rotate(-90)" y="0"><tspan x="-29.25" textLength="58.50" lengthAdjust="spacingAndGlyphs">(Confidence)</tspan></text>
<text class="v" transform="translate(25.35 398.53) rotate(-90)" y="0"><tspan x="-39.95" textLength="41.65" lengthAdjust="spacingAndGlyphs">Everyday</tspan> <tspan x="4.25" textLength="35.71" lengthAdjust="spacingAndGlyphs">barriers</tspan></text>
<text class="v" transform="translate(38.90 398.53) rotate(-90)" y="0"><tspan x="-32.91" textLength="65.82" lengthAdjust="spacingAndGlyphs">(Convenience)</tspan></text>
<text class="v" transform="translate(38.90 526.42) rotate(-90)" y="0"><tspan x="-32.43" textLength="26.69" lengthAdjust="spacingAndGlyphs">Other</tspan> <tspan x="-3.19" textLength="35.61" lengthAdjust="spacingAndGlyphs">reasons</tspan></text>
<text y="629.00"><tspan x="242.62" textLength="13.77" lengthAdjust="spacingAndGlyphs">0%</tspan></text>
<text y="629.00"><tspan x="293.01" textLength="19.48" lengthAdjust="spacingAndGlyphs">10%</tspan></text>
<text y="629.00"><tspan x="346.26" textLength="19.48" lengthAdjust="spacingAndGlyphs">20%</tspan></text>
<text y="629.00"><tspan x="399.51" textLength="19.48" lengthAdjust="spacingAndGlyphs">30%</tspan></text>
<text y="629.00"><tspan x="452.76" textLength="19.48" lengthAdjust="spacingAndGlyphs">40%</tspan></text>
<text y="629.00"><tspan x="506.01" textLength="19.48" lengthAdjust="spacingAndGlyphs">50%</tspan></text>
<text y="629.00"><tspan x="559.26" textLength="19.48" lengthAdjust="spacingAndGlyphs">60%</tspan></text>
<text y="629.00"><tspan x="612.51" textLength="19.48" lengthAdjust="spacingAndGlyphs">70%</tspan></text>
<text y="629.00"><tspan x="665.76" textLength="19.48" lengthAdjust="spacingAndGlyphs">80%</tspan></text>
<text y="645.60"><tspan x="329.08" textLength="51.74" lengthAdjust="spacingAndGlyphs">Percentage</tspan> <tspan x="383.37" textLength="35.40" lengthAdjust="spacingAndGlyphs">(rather)</tspan> <tspan x="421.31" textLength="28.66" lengthAdjust="spacingAndGlyphs">agree,</tspan> <tspan x="452.52" textLength="15.64" lengthAdjust="spacingAndGlyphs">out</tspan> <tspan x="470.71" textLength="9.38" lengthAdjust="spacingAndGlyphs">of</tspan> <tspan x="482.64" textLength="10.57" lengthAdjust="spacingAndGlyphs">all</tspan> <tspan x="495.76" textLength="61.07" lengthAdjust="spacingAndGlyphs">unvaccinated</tspan> <tspan x="559.38" textLength="36.14" lengthAdjust="spacingAndGlyphs">persons</tspan></text>
<rect x="154.45" y="662.45" width="6" height="6.1" fill="#4472c4" stroke="#a6a6a6" stroke-width="0.7"/>
<text y="668.50"><tspan x="163.00" textLength="27.60" lengthAdjust="spacingAndGlyphs">cases:</tspan> <tspan x="193.15" textLength="25.85" lengthAdjust="spacingAndGlyphs">agree</tspan></text>
<rect x="233.25" y="662.45" width="6" height="6.1" fill="#9dc3e6" stroke="#a6a6a6" stroke-width="0.7"/>
<text y="668.50"><tspan x="241.70" textLength="27.60" lengthAdjust="spacingAndGlyphs">cases:</tspan> <tspan x="271.85" textLength="28.56" lengthAdjust="spacingAndGlyphs">rather</tspan> <tspan x="302.96" textLength="25.85" lengthAdjust="spacingAndGlyphs">agree</tspan></text>
<rect x="343.45" y="662.45" width="6" height="6.1" fill="#a5a5a5" stroke="#a0a0a0" stroke-width="0.7"/>
<text y="668.50"><tspan x="351.50" textLength="40.29" lengthAdjust="spacingAndGlyphs">controls:</tspan> <tspan x="394.34" textLength="25.85" lengthAdjust="spacingAndGlyphs">agree</tspan></text>
<rect x="434.85" y="662.45" width="6" height="6.1" fill="#d9d9d9" stroke="#a6a6a6" stroke-width="0.7"/>
<text y="668.50"><tspan x="443.70" textLength="40.29" lengthAdjust="spacingAndGlyphs">controls:</tspan> <tspan x="486.54" textLength="28.56" lengthAdjust="spacingAndGlyphs">rather</tspan> <tspan x="517.64" textLength="25.85" lengthAdjust="spacingAndGlyphs">agree</tspan></text>
</svg></body></html>
